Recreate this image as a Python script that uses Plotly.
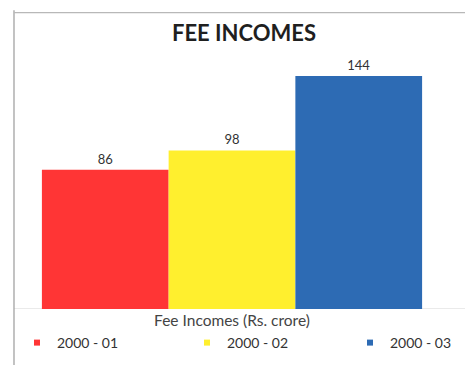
import plotly.graph_objects as go

# Fee incomes (Rs. crore) by year
category = ["Fee Incomes (Rs. crore)"]
years = ["2000 - 01", "2000 - 02", "2000 - 03"]
fee_incomes = [86, 98, 144]
colors = ["#FF3535", "#FFEF2E", "#2D6BB4"]

FONT = "Lato, 'Open Sans', sans-serif"
legend_ids = ["legend", "legend2", "legend3"]
legend_x = [17, 187, 350]  # left edge of each legend entry, px

fig = go.Figure()
for yr, val, col, lid in zip(years, fee_incomes, colors, legend_ids):
    # bars carry the values; each year gets its own legend entry below
    fig.add_trace(go.Bar(
        x=category, y=[val], name=yr, marker=dict(color=col, line=dict(width=0)),
        text=[str(val)], textposition="outside", cliponaxis=False,
        textfont=dict(family=FONT, size=13, color="#333333"),
        showlegend=False,
    ))
    fig.add_trace(go.Scatter(
        x=[None], y=[None], mode="markers", name=yr, legend=lid,
        marker=dict(symbol="square", size=6, color=col),
    ))

PLOT_L, PLOT_W = 14, 436
PLOT_T, PLOT_B = 60, 309
legend_style = dict(orientation="h", xanchor="left",
                    y=(PLOT_B - 343) / (PLOT_B - PLOT_T), yanchor="middle",
                    itemwidth=30, font=dict(family=FONT, size=14, color="#333333"),
                    bgcolor="rgba(0,0,0,0)", borderwidth=0)
legends = {lid: dict(x=(lx - PLOT_L) / PLOT_W, **legend_style)
           for lid, lx in zip(legend_ids, legend_x)}

fig.update_layout(
    width=465, height=365,
    margin=dict(l=PLOT_L, r=465 - PLOT_L - PLOT_W, t=PLOT_T, b=365 - PLOT_B,
                autoexpand=False),
    paper_bgcolor="white", plot_bgcolor="white",
    barmode="group", bargap=0.128, bargroupgap=0,
    font=dict(family=FONT, color="#333333"),
    title=dict(text="<b>FEE INCOMES</b>", x=244 / 465, xanchor="center",
               xref="container", y=1 - 33 / 365, yanchor="middle", yref="container",
               font=dict(family=FONT, size=22, color="#1F1F1F")),
    xaxis=dict(showgrid=False, showline=False, ticks="",
               tickfont=dict(family=FONT, size=15.5, color="#444444")),
    yaxis=dict(range=[0, 153.9], showgrid=False, showline=False, showticklabels=False,
               zeroline=False),
    shapes=[
        # chart frame (left and top edges)
        dict(type="line", xref="paper", yref="paper", x0=0, x1=0, y0=-0.3, y1=1.2,
             line=dict(color="#9A9A9A", width=1.2)),
        dict(type="line", xref="paper", yref="paper", x0=0, x1=1.05, y0=1.19, y1=1.19,
             line=dict(color="#B8B8B8", width=1.2)),
        # baseline gridline
        dict(type="line", xref="paper", yref="y", x0=0, x1=1.04, y0=0, y1=0,
             line=dict(color="#D4D4D4", width=1), layer="below"),
    ],
    **legends,
)

fig.write_html("out.html")
